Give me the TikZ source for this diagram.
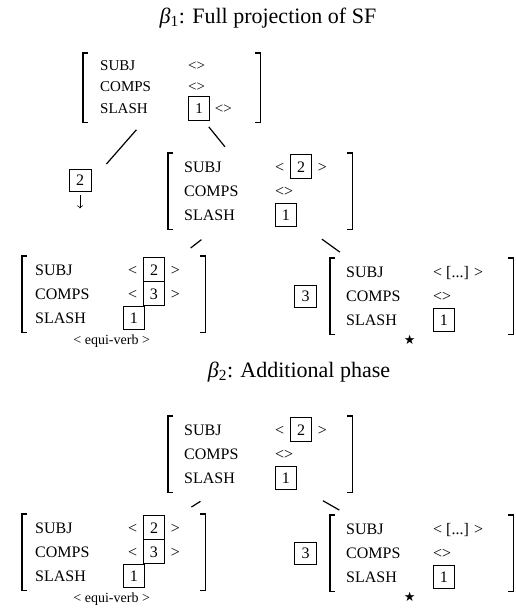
\documentclass[tikz,border=0pt]{standalone}
\usepackage{fontspec}
\setmainfont{Liberation Serif}
\newfontfamily\symfont{DejaVu Sans}
\usetikzlibrary{arrows.meta,positioning}

\renewcommand{\arraystretch}{1.27}
\newcommand{\boxnum}[1]{\smash{\setlength{\fboxsep}{0pt}\setlength{\fboxrule}{0.8pt}%
  \fbox{\makebox[20pt]{\rule[-6pt]{0pt}{23pt}#1}}}}
\newcommand{\avmrows}[5]{%
  \begin{tabular}{@{}p{#1}@{}p{#2}@{}}
  SUBJ & #3\\ COMPS & #4\\ SLASH & #5
  \end{tabular}}
\newcommand{\brackets}[1]{%
  \draw[bracket] ([xshift=5pt]#1.north west) -| (#1.south west) -- ++(5pt,0);
  \draw[bracket] ([xshift=-5pt]#1.north east) -| (#1.south east) -- ++(-5pt,0);}

\begin{document}
\begin{tikzpicture}[x=1pt,y=-1pt,
  every node/.style={inner sep=0pt},
  avm/.style={anchor=north west,inner xsep=#1,inner ysep=2pt,font=\fontsize{16}{19}\selectfont},
  tagbox/.style={draw,line width=0.8pt,minimum width=22pt,minimum height=22pt,font=\fontsize{16}{19}\selectfont},
  bracket/.style={line width=1.3pt},
  branch/.style={line width=1.2pt},
  title/.style={font=\fontsize{22}{26}\selectfont}]
\useasboundingbox (0,0) rectangle (516,616);

% beta 1
\node[title] (title1) at (268,18) {\textit{β}\textsubscript{1}: Full projection of SF};
\node[avm=17pt,font=\fontsize{15}{18}\selectfont\renewcommand{\arraystretch}{1.2}] (top1) at (83,53)
  {\avmrows{88pt}{55pt}{<>}{<>}{\boxnum{1}\hspace{5pt}<>}};
\node[tagbox] (tag2) at (80,180) {2};
\node[avm=16pt] (mid1) at (168,153)
  {\avmrows{91pt}{61pt}{<\hspace{6pt}\boxnum{2}\hspace{6pt}>}{<>}{\boxnum{1}}};
\node[avm=13pt] (left1) at (22,256)
  {\avmrows{93pt}{64pt}{<\hspace{6pt}\boxnum{2}\hspace{6pt}>}{<\hspace{6pt}\boxnum{3}\hspace{6pt}>}{\hspace{-5pt}\boxnum{1}}};
\node[avm=16pt] (right1) at (330,258)
  {\avmrows{87pt}{64pt}{< [...] >}{<>}{\boxnum{1}}};
\node[tagbox,left=13pt of right1] (tag3a) {3};
\node[below=2pt of left1,xshift=-2pt,font=\fontsize{14}{16}\selectfont] (equi1) {< equi-verb >};
\node[below=0pt of right1,xshift=-12pt,font=\symfont\fontsize{13}{13}\selectfont] (star1) {★};
\brackets{top1}
\brackets{mid1}
\brackets{left1}
\brackets{right1}
\draw[branch,shorten <=10pt,shorten >=6pt] ([xshift=60pt]top1.south west) -- ([xshift=11pt]tag2.north east);
\draw[branch,shorten <=6pt,shorten >=8pt] ([xshift=122pt]top1.south west) -- ([xshift=62pt]mid1.north west);
\draw[-{To[length=3pt]},line width=0.6pt,shorten <=4pt] (tag2.south) -- ([yshift=-17pt]tag2.south);
\draw[branch,shorten <=16pt,shorten >=13pt] ([xshift=46pt]mid1.south west) -- ([xshift=-25pt]left1.north east);
\draw[branch,shorten <=16pt,shorten >=10pt] ([xshift=141pt]mid1.south west) -- ([xshift=18pt]right1.north west);

% beta 2
\node[title] (title2) at (299,372) {\textit{β}\textsubscript{2}: Additional phase};
\node[avm=16pt] (top2) at (168,416)
  {\avmrows{91pt}{61pt}{<\hspace{6pt}\boxnum{2}\hspace{6pt}>}{<>}{\boxnum{1}}};
\node[avm=13pt] (left2) at (22,514)
  {\avmrows{93pt}{64pt}{<\hspace{6pt}\boxnum{2}\hspace{6pt}>}{<\hspace{6pt}\boxnum{3}\hspace{6pt}>}{\hspace{-5pt}\boxnum{1}}};
\node[avm=16pt] (right2) at (330,515)
  {\avmrows{87pt}{64pt}{< [...] >}{<>}{\boxnum{1}}};
\node[tagbox,left=13pt of right2] (tag3b) {3};
\node[below=2pt of left2,xshift=-2pt,font=\fontsize{14}{16}\selectfont] (equi2) {< equi-verb >};
\node[below=0pt of right2,xshift=-12pt,font=\symfont\fontsize{13}{13}\selectfont] (star2) {★};
\brackets{top2}
\brackets{left2}
\brackets{right2}
\draw[branch,shorten <=16pt,shorten >=13pt] ([xshift=46pt]top2.south west) -- ([xshift=-25pt]left2.north east);
\draw[branch,shorten <=16pt,shorten >=10pt] ([xshift=141pt]top2.south west) -- ([xshift=18pt]right2.north west);
\end{tikzpicture}
\end{document}
